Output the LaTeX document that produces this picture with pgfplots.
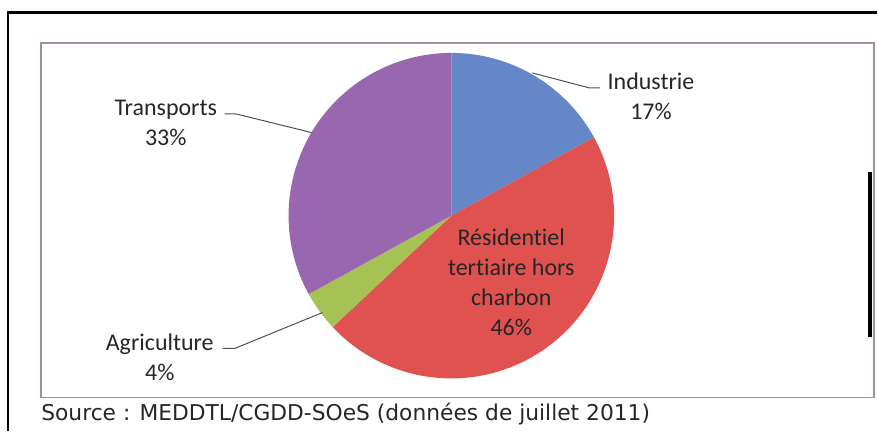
\documentclass[border=0pt]{standalone}
\usepackage{pgfplots}
\pgfplotsset{compat=1.18}
\usepackage{fontspec}
\setmainfont{Carlito}[Ligatures={NoCommon}]
\newfontfamily\srcfont{DejaVu Sans}
\definecolor{cInd}{RGB}{101,135,199}
\definecolor{cRes}{RGB}{224,82,80}
\definecolor{cAgr}{RGB}{166,194,84}
\definecolor{cTra}{RGB}{153,102,176}
\definecolor{boxc}{RGB}{165,145,145}
\definecolor{txt}{RGB}{38,38,38}
% shares (%)
\def\vInd{17}
\def\vRes{46}
\def\vAgr{4}
\def\vTra{33}
\pgfmathsetmacro\aA{90}
\pgfmathsetmacro\aB{\aA-3.6*\vInd}
\pgfmathsetmacro\aC{\aB-3.6*\vRes}
\pgfmathsetmacro\aD{\aC-3.6*\vAgr}
\pgfmathsetmacro\aE{\aD-3.6*\vTra}
\begin{document}
\begin{tikzpicture}
\begin{axis}[
  hide axis, scale only axis,
  x=0.5pt, y=0.5pt,
  xmin=0, xmax=878, ymin=0, ymax=432,
  clip=false,
]
\path (axis cs:0,0) rectangle (axis cs:878,432);
% frames
\draw[boxc, line width=0.8pt] (axis cs:41,34) rectangle (axis cs:875,389);
\draw[black, line width=1.3pt] (axis cs:8,0) -- (axis cs:8,419.5) -- (axis cs:878,419.5);
\draw[black, line width=2.2pt] (axis cs:871.5,94) -- (axis cs:871.5,260);
% wedges
\addplot[fill=cInd, draw=none, domain=\aB:\aA, samples=80] ({452+163*cos(x)},{216+163*sin(x)}) -- (axis cs:452,216) -- cycle;
\addplot[fill=cRes, draw=none, domain=\aC:\aB, samples=120] ({452+163*cos(x)},{216+163*sin(x)}) -- (axis cs:452,216) -- cycle;
\addplot[fill=cAgr, draw=none, domain=\aD:\aC, samples=20] ({452+163*cos(x)},{216+163*sin(x)}) -- (axis cs:452,216) -- cycle;
\addplot[fill=cTra, draw=none, domain=\aE:\aD, samples=100] ({452+163*cos(x)},{216+163*sin(x)}) -- (axis cs:452,216) -- cycle;
% leader lines
\draw[txt!80, line width=0.5pt] (axis cs:533,359) -- (axis cs:590,344) -- (axis cs:601,344);
\draw[txt!80, line width=0.5pt] (axis cs:225,318) -- (axis cs:236,318) -- (axis cs:313,299);
\draw[txt!80, line width=0.5pt] (axis cs:223,83) -- (axis cs:235,83) -- (axis cs:323,119);
% labels
\node[txt, font=\fontsize{12}{15}\selectfont, align=center] at (axis cs:652,336) {Industrie\\17\%};
\node[txt, font=\fontsize{12}{15}\selectfont, align=center] at (axis cs:166,309) {Transports\\33\%};
\node[txt, font=\fontsize{12}{15}\selectfont, align=center] at (axis cs:160,74) {Agriculture\\4\%};
\node[txt, font=\fontsize{12}{15}\selectfont, align=center] at (axis cs:512,149) {Résidentiel\\tertiaire hors\\charbon\\46\%};
\node[txt, font=\srcfont\fontsize{10.9}{13}\selectfont, anchor=base west, inner sep=0pt] at (axis cs:41,11) {Source : MEDDTL/CGDD-SOeS (données de juillet 2011)};
\end{axis}
\end{tikzpicture}
\end{document}
